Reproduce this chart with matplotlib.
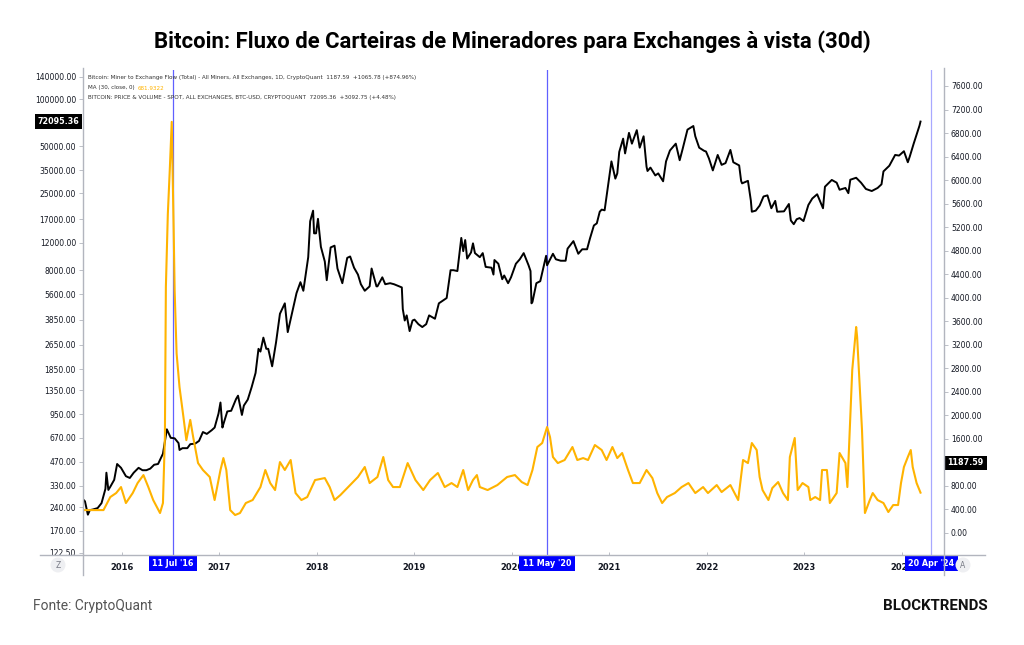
import matplotlib
matplotlib.use("Agg")
import matplotlib.pyplot as plt
from matplotlib.lines import Line2D
from matplotlib.patches import Ellipse

W, H = 1024, 645

# BTC spot price (USD), x in decimal years
btc_t = [
    2015.60, 2015.62, 2015.65, 2015.67, 2015.70, 2015.75, 2015.79, 2015.83, 2015.84, 2015.86,
    2015.88, 2015.92, 2015.95, 2015.99, 2016.04, 2016.08, 2016.12, 2016.17, 2016.21, 2016.25,
    2016.29, 2016.33, 2016.37, 2016.42, 2016.45, 2016.46, 2016.50, 2016.54, 2016.58, 2016.59,
    2016.62, 2016.67, 2016.70, 2016.75, 2016.79, 2016.83, 2016.87, 2016.92, 2016.95, 2016.99,
    2017.01, 2017.03, 2017.04, 2017.08, 2017.12, 2017.17, 2017.19, 2017.23, 2017.25, 2017.29,
    2017.33, 2017.37, 2017.40, 2017.42, 2017.45, 2017.48, 2017.50, 2017.54, 2017.58, 2017.62,
    2017.67, 2017.70, 2017.75, 2017.79, 2017.83, 2017.86, 2017.91, 2017.93, 2017.96, 2017.97,
    2017.99, 2018.01, 2018.04, 2018.08, 2018.10, 2018.14, 2018.18, 2018.21, 2018.25, 2018.26,
    2018.31, 2018.34, 2018.38, 2018.42, 2018.45, 2018.49, 2018.54, 2018.56, 2018.61, 2018.62,
    2018.67, 2018.70, 2018.75, 2018.79, 2018.83, 2018.87, 2018.88, 2018.90, 2018.92, 2018.95,
    2018.98, 2019.00, 2019.04, 2019.08, 2019.12, 2019.15, 2019.21, 2019.25, 2019.29, 2019.33,
    2019.37, 2019.40, 2019.44, 2019.48, 2019.50, 2019.52, 2019.54, 2019.58, 2019.60, 2019.62,
    2019.67, 2019.70, 2019.73, 2019.79, 2019.81, 2019.82, 2019.86, 2019.90, 2019.92, 2019.96,
    2019.99, 2020.04, 2020.08, 2020.12, 2020.17, 2020.19, 2020.20, 2020.21, 2020.25, 2020.29,
    2020.33, 2020.35, 2020.36, 2020.42, 2020.45, 2020.50, 2020.55, 2020.57, 2020.63, 2020.68,
    2020.72, 2020.77, 2020.80, 2020.84, 2020.87, 2020.90, 2020.92, 2020.95, 2020.97, 2020.99,
    2021.02, 2021.06, 2021.08, 2021.10, 2021.14, 2021.16, 2021.20, 2021.23, 2021.28, 2021.31,
    2021.35, 2021.38, 2021.39, 2021.42, 2021.47, 2021.50, 2021.55, 2021.58, 2021.62, 2021.68,
    2021.72, 2021.75, 2021.80, 2021.86, 2021.88, 2021.92, 2021.97, 2021.99, 2022.02, 2022.06,
    2022.11, 2022.15, 2022.19, 2022.24, 2022.27, 2022.33, 2022.35, 2022.36, 2022.42, 2022.45,
    2022.46, 2022.50, 2022.54, 2022.58, 2022.62, 2022.66, 2022.70, 2022.72, 2022.79, 2022.84,
    2022.86, 2022.89, 2022.92, 2022.95, 2022.99, 2023.04, 2023.08, 2023.13, 2023.19, 2023.21,
    2023.28, 2023.33, 2023.36, 2023.42, 2023.45, 2023.47, 2023.53, 2023.58, 2023.63, 2023.69,
    2023.75, 2023.79, 2023.81, 2023.87, 2023.93, 2023.97, 2024.02, 2024.06, 2024.08, 2024.12,
    2024.16, 2024.18, 2024.19,
]
btc_price = [
    270, 262, 215, 230, 232, 237, 255, 315, 400, 310,
    325, 360, 455, 430, 380, 370, 400, 430, 415, 415,
    425, 450, 455, 530, 700, 760, 670, 665, 620, 560,
    575, 575, 610, 615, 640, 730, 710, 750, 780, 960,
    1130, 780, 820, 990, 1000, 1190, 1250, 940, 1080, 1180,
    1420, 1750, 2500, 2400, 2950, 2500, 2500, 1930, 2750, 4200,
    4900, 3200, 4400, 5700, 6700, 5900, 9700, 16500, 19300, 13800,
    13800, 17100, 11300, 9100, 6900, 11200, 11500, 8200, 6900, 6600,
    9600, 9800, 8300, 7500, 6500, 5900, 6300, 8200, 6300, 6300,
    7200, 6500, 6600, 6500, 6350, 6200, 4500, 3800, 4100, 3250,
    3800, 3850, 3600, 3450, 3600, 4100, 3900, 4900, 5100, 5300,
    8000, 8000, 7900, 12900, 10600, 12500, 9500, 10400, 11900, 10300,
    9700, 10300, 8400, 8300, 7500, 9300, 8800, 7000, 7400, 6600,
    7200, 8800, 9400, 10300, 8600, 7900, 4900, 5000, 6600, 6800,
    8700, 9900, 8600, 10200, 9400, 9200, 9200, 11000, 12300, 10200,
    10900, 10900, 12800, 15500, 16000, 19000, 19600, 19400, 23800, 29000,
    40000, 31000, 33500, 46000, 56000, 45000, 61000, 52000, 63500, 49000,
    58000, 37000, 34700, 36500, 32500, 33500, 29800, 40000, 47000, 52000,
    40700, 48000, 64000, 67500, 58000, 49000, 46800, 46300, 41800, 35000,
    44000, 38000, 39000, 47400, 39500, 37700, 30000, 28900, 30000, 22400,
    19000, 19300, 20800, 23800, 24200, 20000, 22300, 19000, 19100, 21300,
    16700, 15800, 17000, 17300, 16550, 21000, 23100, 24600, 20000, 27500,
    30400, 29200, 26300, 27000, 25000, 30500, 31400, 29200, 26600, 25800,
    27000, 28500, 34500, 37500, 44000, 43600, 46500, 39500, 43000, 52000,
    62000, 68000, 72095.36,
]

# Miner to exchange flow, 30d moving average (BTC)
flow_t = [
    2015.60, 2015.70, 2015.81, 2015.88, 2015.94, 2015.99, 2016.04, 2016.11, 2016.16, 2016.22,
    2016.27, 2016.32, 2016.39, 2016.42, 2016.44, 2016.45, 2016.47, 2016.49, 2016.51, 2016.53,
    2016.54, 2016.56, 2016.59, 2016.63, 2016.66, 2016.70, 2016.73, 2016.78, 2016.83, 2016.90,
    2016.95, 2017.01, 2017.04, 2017.07, 2017.11, 2017.16, 2017.21, 2017.27, 2017.34, 2017.42,
    2017.47, 2017.52, 2017.57, 2017.62, 2017.67, 2017.73, 2017.78, 2017.84, 2017.90, 2017.98,
    2018.08, 2018.13, 2018.18, 2018.24, 2018.34, 2018.42, 2018.49, 2018.54, 2018.62, 2018.68,
    2018.73, 2018.78, 2018.85, 2018.93, 2019.01, 2019.09, 2019.16, 2019.24, 2019.31, 2019.38,
    2019.44, 2019.50, 2019.55, 2019.60, 2019.64, 2019.67, 2019.75, 2019.85, 2019.95, 2020.03,
    2020.10, 2020.16, 2020.21, 2020.26, 2020.31, 2020.36, 2020.39, 2020.42, 2020.47, 2020.54,
    2020.62, 2020.67, 2020.73, 2020.78, 2020.85, 2020.92, 2020.97, 2021.03, 2021.08, 2021.13,
    2021.19, 2021.24, 2021.31, 2021.38, 2021.44, 2021.49, 2021.54, 2021.59, 2021.67, 2021.74,
    2021.81, 2021.88, 2021.96, 2022.01, 2022.10, 2022.15, 2022.24, 2022.32, 2022.37, 2022.42,
    2022.46, 2022.51, 2022.54, 2022.57, 2022.63, 2022.67, 2022.73, 2022.78, 2022.83, 2022.85,
    2022.90, 2022.93, 2022.98, 2023.04, 2023.06, 2023.11, 2023.16, 2023.18, 2023.23, 2023.26,
    2023.33, 2023.36, 2023.42, 2023.44, 2023.49, 2023.53, 2023.54, 2023.59, 2023.62, 2023.67,
    2023.70, 2023.75, 2023.81, 2023.86, 2023.91, 2023.96, 2023.99, 2024.02, 2024.06, 2024.09,
    2024.11, 2024.15, 2024.19,
]
flow_ma30 = [
    385, 385, 385, 607, 675, 777, 505, 675, 845, 981,
    777, 556, 335, 505, 1628, 4180, 5420, 6170, 6990, 5150,
    4120, 3050, 2475, 1970, 1575, 1920, 1628, 1185, 1067, 948,
    556, 1067, 1270, 1067, 385, 301, 335, 505, 556, 777,
    1067, 845, 726, 1202, 1067, 1237, 675, 556, 607, 896,
    930, 777, 556, 641, 811, 948, 1118, 845, 948, 1288,
    896, 777, 777, 1185, 896, 726, 896, 1016, 777, 845,
    777, 1067, 726, 896, 981, 777, 726, 811, 948, 981,
    862, 811, 1067, 1458, 1526, 1798, 1628, 1288, 1185, 1237,
    1458, 1237, 1270, 1237, 1492, 1407, 1237, 1458, 1270, 1356,
    1067, 845, 845, 1067, 930, 675, 505, 607, 675, 777,
    845, 675, 777, 675, 811, 692, 811, 556, 1237, 1185,
    1526, 1407, 948, 726, 556, 760, 862, 675, 556, 1288,
    1611, 726, 845, 777, 556, 607, 556, 1067, 1067, 505,
    675, 1356, 1185, 777, 2770, 3500, 3330, 1747, 335, 556,
    675, 556, 505, 352, 471, 471, 845, 1118, 1288, 1407,
    1118, 845, 682,
]

left_ticks = [122.5, 170, 240, 330, 470, 670, 950, 1350, 1850, 2650, 3850, 5600,
              8000, 12000, 17000, 25000, 35000, 50000, 100000, 140000]
right_ticks = [0, 400, 800, 1600, 2000, 2400, 2800, 3200, 3600, 4000,
               4400, 4800, 5200, 5600, 6000, 6400, 6800, 7200, 7600]
year_ticks = [2016, 2017, 2018, 2019, 2020, 2021, 2022, 2023, 2024]
marker_t = [2016.525, 2020.358, 2024.30]
marker_labels = ["11 Jul '16", "11 May '20", "20 Apr '24"]
last_price = 72095.36
last_flow = 1187.59

ORANGE = "#ffb300"
GRID = "#b2b5be"
TXT = "#131722"

fig = plt.figure(figsize=(W / 100, H / 100), dpi=100)
fig.patch.set_facecolor("white")


def fx(px):
    return px / W


def fy(py):
    return 1 - py / H


ax = fig.add_axes([fx(83), fy(555), fx(944) - fx(83), fy(70) - fy(555)])
ax2 = ax.twinx()

ax.plot(btc_t, btc_price, color="black", lw=1.4, zorder=3)
ax.set_yscale("log")
ax.set_ylim(118.4, 154600)
ax.set_xlim(2015.60, 2024.431)

ax2.plot(flow_t, flow_ma30, color=ORANGE, lw=1.5, zorder=3)
ax2.set_ylim(-379, 7872)

for a in (ax, ax2):
    for s in a.spines.values():
        s.set_visible(False)

ax.set_yticks(left_ticks)
ax.set_yticklabels([f"{v:.2f}" for v in left_ticks])
ax.yaxis.set_minor_locator(matplotlib.ticker.NullLocator())
ax.tick_params(axis="y", labelsize=5.5, colors=GRID, labelcolor=TXT, length=3, width=0.6, pad=2)

ax2.set_yticks(right_ticks)
ax2.set_yticklabels([f"{v:.2f}" for v in right_ticks])
ax2.tick_params(axis="y", labelsize=5.5, colors=GRID, labelcolor=TXT, length=3, width=0.6, pad=2)

ax.set_xticks(year_ticks)
ax.set_xticklabels([str(y) for y in year_ticks], fontweight="bold")
ax.tick_params(axis="x", direction="in", labelsize=6, colors=GRID, labelcolor=TXT, length=2, width=0.6, pad=6)

# frame lines (extend past plot like the source screenshot)
fig.add_artist(Line2D([fx(40), fx(985)], [fy(555), fy(555)], color=GRID, lw=1))
fig.add_artist(Line2D([fx(83), fx(83)], [fy(68), fy(575)], color=GRID, lw=1))
fig.add_artist(Line2D([fx(944), fx(944)], [fy(68), fy(575)], color=GRID, lw=1))

# vertical event markers
marker_colors = ["#6060ff", "#6060ff", "#a8a8ff"]
for t, lab, c in zip(marker_t, marker_labels, marker_colors):
    ax.axvline(t, color=c, lw=0.9, zorder=2)
    ax.text(t, -0.017, lab, transform=ax.get_xaxis_transform(), ha="center", va="center",
            fontsize=5.8, color="white", fontweight="bold", zorder=10, clip_on=False,
            bbox=dict(boxstyle="square,pad=0.45", fc="#0000ff", ec="none"))

# last value labels
ax.text(-0.004, last_price, f"{last_price:.2f}", transform=ax.get_yaxis_transform(),
        ha="right", va="center", fontsize=5.8, color="white", fontweight="bold",
        clip_on=False, bbox=dict(boxstyle="square,pad=0.35", fc="black", ec="none"))
ax2.text(1.004, last_flow, f"{last_flow:.2f}", transform=ax2.get_yaxis_transform(),
         ha="left", va="center", fontsize=5.8, color="white", fontweight="bold",
         clip_on=False, bbox=dict(boxstyle="square,pad=0.35", fc="black", ec="none"))

# legend lines top-left
leg_kw = dict(fontsize=4.05, color="#333333", ha="left", va="center")
fig.text(fx(88), fy(78), "Bitcoin: Miner to Exchange Flow (Total) - All Miners, All Exchanges, 1D, CryptoQuant  "
         "1187.59  +1065.78 (+874.96%)", **leg_kw)
t1 = fig.text(fx(88), fy(88), "MA (30, close, 0)  ", **leg_kw)
fig.canvas.draw()
bb = t1.get_window_extent()
fig.text(bb.x1 / W, fy(88), "681.9322", fontsize=4.05, color=ORANGE, ha="left", va="center")
fig.text(fx(88), fy(98), "BITCOIN: PRICE & VOLUME - SPOT, ALL EXCHANGES, BTC-USD, CRYPTOQUANT  "
         "72095.36  +3092.75 (+4.48%)", **leg_kw)

# Z / A buttons
for cx, letter in [(58, "Z"), (963, "A")]:
    fig.add_artist(Ellipse((fx(cx), fy(565)), 15 / W, 15 / H, transform=fig.transFigure,
                           fc="#eeeff2", ec="none"))
    fig.text(fx(cx), fy(565), letter, ha="center", va="center", fontsize=5.5, color="#787b86")

fig.text(0.5, fy(42), "Bitcoin: Fluxo de Carteiras de Mineradores para Exchanges à vista (30d)",
         ha="center", va="center", fontsize=15.9, fontweight="bold", family="Roboto", color="black")
fig.text(fx(33), fy(606), "Fonte: CryptoQuant", ha="left", va="center", fontsize=10,
         family="Roboto", color="#555555")
fig.text(fx(988), fy(606), "BLOCKTRENDS", ha="right", va="center", fontsize=10.8,
         family="Roboto", fontweight="bold", color="#111111")

fig.savefig("out.png", dpi=100)
